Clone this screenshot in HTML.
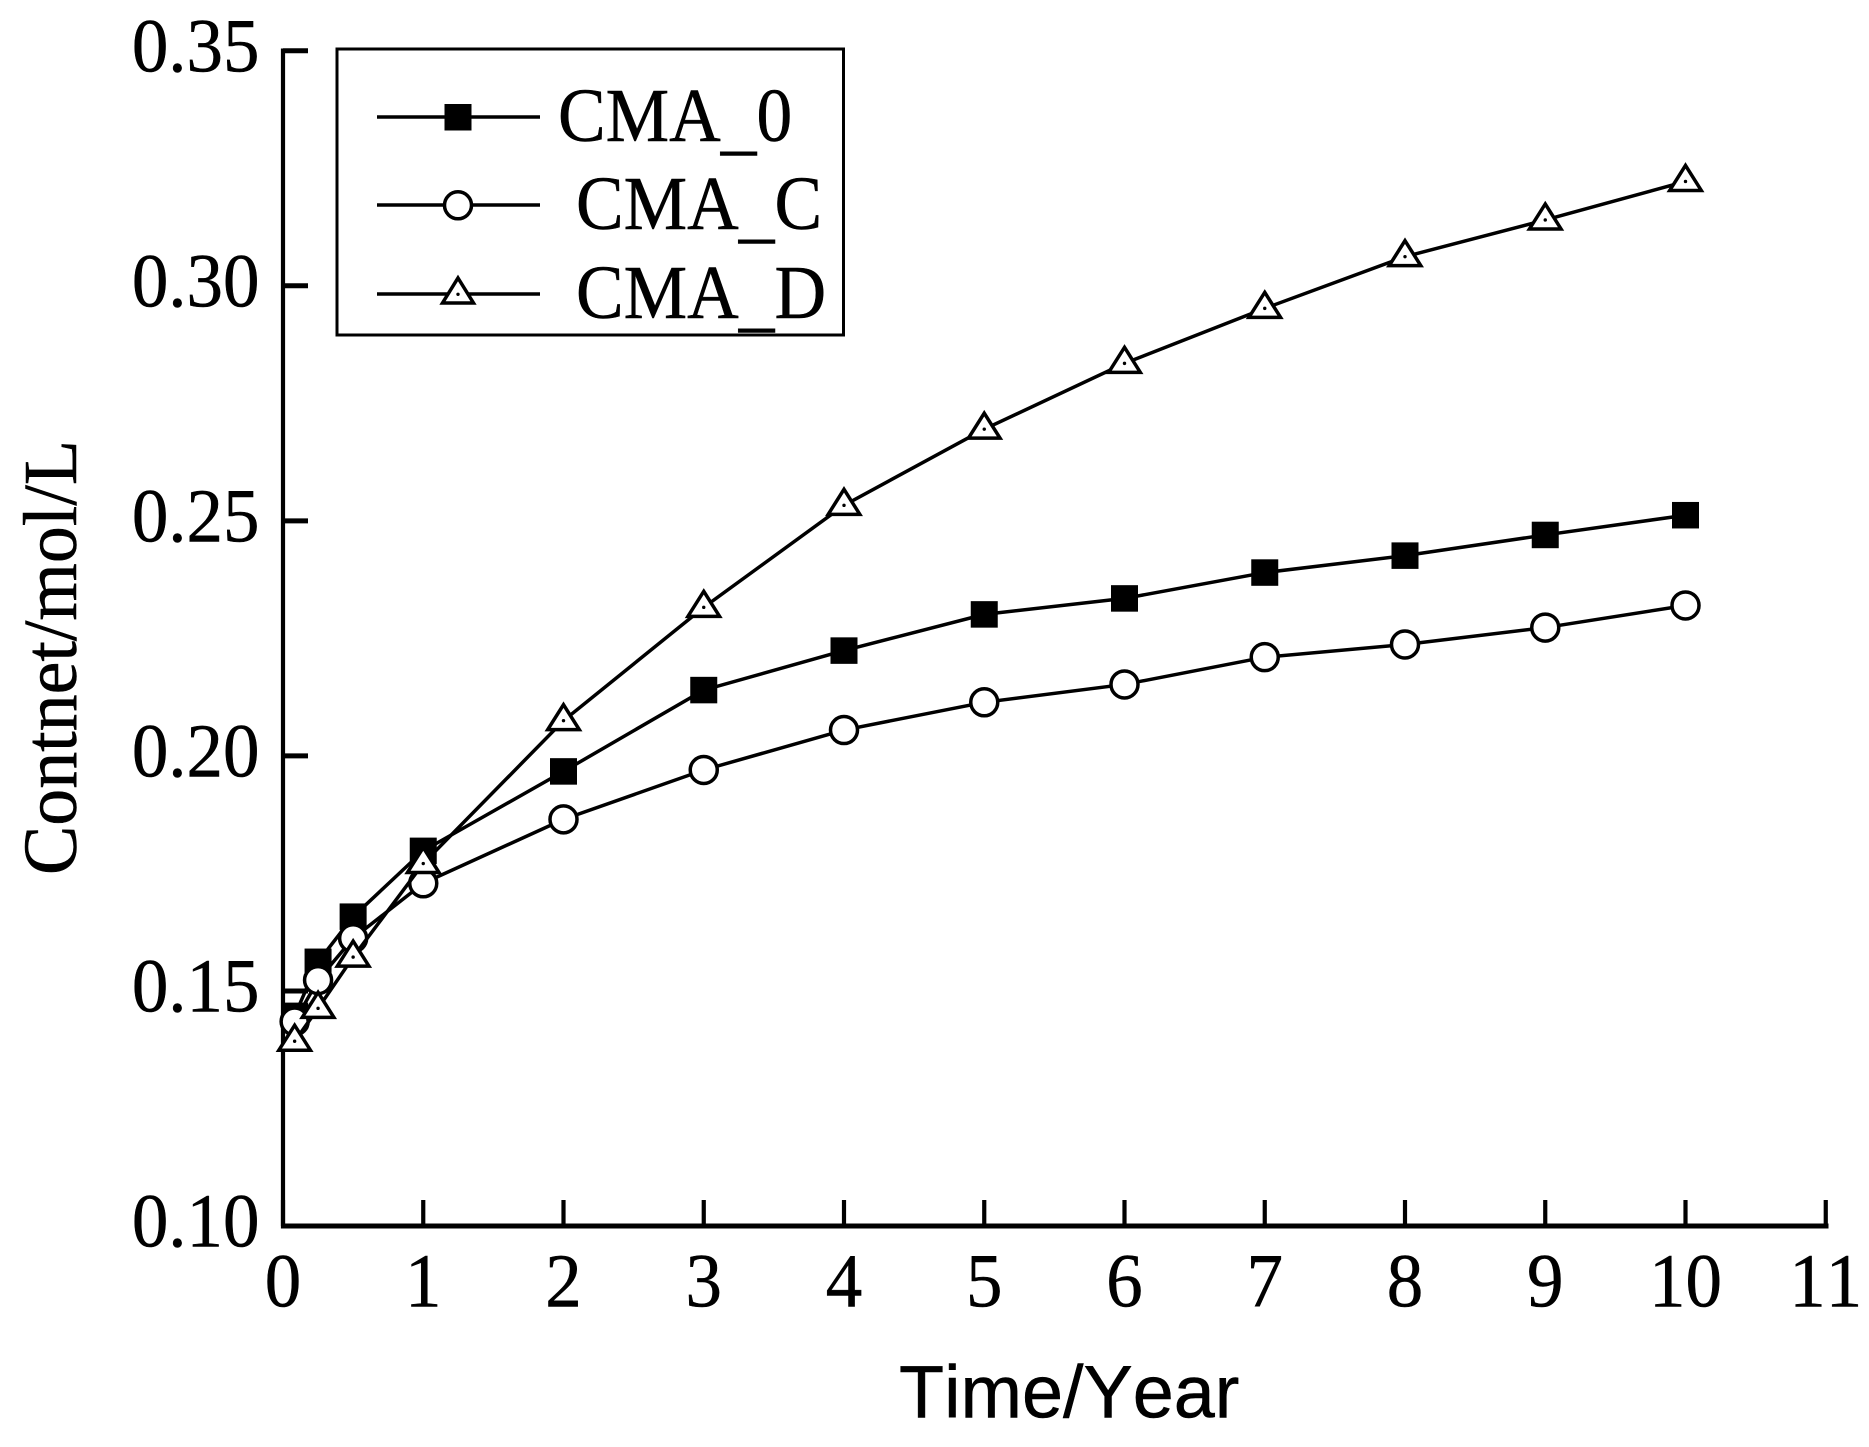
<!DOCTYPE html>
<html>
<head>
<meta charset="utf-8">
<title>Content over time</title>
<style>
html,body{margin:0;padding:0;background:#fff;}
svg{display:block;}
text{font-family:"Liberation Serif",serif;fill:#000;font-kerning:none;stroke:#000;stroke-width:0.5;}
.sans{font-family:"Liberation Sans",sans-serif;}
</style>
</head>
<body>
<svg id="chart" xmlns="http://www.w3.org/2000/svg" width="1869" height="1447" viewBox="0 0 1869 1447">
  <rect x="0" y="0" width="1869" height="1447" fill="#fff"/>
  <g id="axes"></g>
  <g id="series"></g>
  <text class="sans" x="899" y="1417.5" font-size="73.8">Time/Year</text>
  <text transform="translate(76,875) rotate(-90) scale(0.972,1)" font-size="76">Contnet/mol/L</text>
  <g>
    <rect x="337" y="49" width="506.5" height="286" fill="none" stroke="#000" stroke-width="3"/>
    <g>
      <line x1="377" y1="117" x2="540" y2="117" stroke="#000" stroke-width="3.5"/>
      <rect x="444.5" y="104" width="27" height="26.5" fill="#000"/>
      <text transform="translate(558,141) scale(0.94,1)" font-size="76">CMA<tspan dy="4.5">_</tspan><tspan dy="-4.5">0</tspan></text>
    </g>
    <g>
      <line x1="377" y1="205" x2="540" y2="205" stroke="#000" stroke-width="3.5"/>
      <circle cx="458" cy="205.3" r="13.5" fill="#fff" stroke="#000" stroke-width="3.5"/>
      <text transform="translate(576,229) scale(0.94,1)" font-size="76">CMA<tspan dy="4.5">_</tspan><tspan dy="-4.5">C</tspan></text>
    </g>
    <g>
      <line x1="377" y1="294" x2="540" y2="294" stroke="#000" stroke-width="3.5"/>
      <path d="M458 278 L473.5 303 L442.5 303 Z" fill="#fff" stroke="#000" stroke-width="3.5"/>
      <circle cx="458" cy="294.3" r="1.7" fill="#000"/>
      <text transform="translate(576,318) scale(0.94,1)" font-size="76">CMA<tspan dy="4.5">_</tspan><tspan dy="-4.5">D</tspan></text>
    </g>
  </g>
</svg>
<script>
var xTickValues = [0, 1, 2, 3, 4, 5, 6, 7, 8, 9, 10, 11];
var xTickLabels = ['0', '1', '2', '3', '4', '5', '6', '7', '8', '9', '10', '11'];
var yTickValues = [0.10, 0.15, 0.20, 0.25, 0.30, 0.35];
var yTickLabels = ['0.10', '0.15', '0.20', '0.25', '0.30', '0.35'];
var times = [0.083, 0.25, 0.5, 1, 2, 3, 4, 5, 6, 7, 8, 9, 10];
var cma0 = [0.1447, 0.1562, 0.1658, 0.1798, 0.1967, 0.2140, 0.2224, 0.2301, 0.2335, 0.2390, 0.2426, 0.2470, 0.2512];
var cmaC = [0.1435, 0.1523, 0.1612, 0.1729, 0.1865, 0.1970, 0.2055, 0.2114, 0.2152, 0.2210, 0.2237, 0.2273, 0.2320];
var cmaD = [0.1393, 0.1463, 0.1572, 0.1771, 0.2075, 0.2316, 0.2533, 0.2695, 0.2835, 0.2952, 0.3062, 0.3140, 0.3222];

var NS = 'http://www.w3.org/2000/svg';
function xScale(v) { return 283 + 140.25 * v; }
function yScale(v) { return 1226 - (v - 0.1) * 4701; }

function make(tag, parent, attrs) {
  var el = document.createElementNS(NS, tag);
  for (var k in attrs) { el.setAttribute(k, attrs[k]); }
  parent.appendChild(el);
  return el;
}

var axes = document.getElementById('axes');
var seriesGroup = document.getElementById('series');

var ySpine = make('line', axes, {x1: 283, y1: 48.5, x2: 283, y2: 1228.5, stroke: '#000', 'stroke-width': 4.2});


var xSpine = make('line', axes, {x1: 281, y1: 1226, x2: 1828.5, y2: 1226, stroke: '#000', 'stroke-width': 5});



xTickValues.forEach(function (v, i) {
  var tick = make('line', axes, {x1: xScale(v), y1: 1200, x2: xScale(v), y2: 1226, stroke: '#000', 'stroke-width': 4.2});
  
  
  var label = make('text', axes, {transform: 'translate(' + xScale(v) + ',1306.5) scale(0.96,1)', 'font-size': 76, 'text-anchor': 'middle'});
  
  
  label.textContent = xTickLabels[i];
});

yTickValues.forEach(function (v, i) {
  var tick = make('line', axes, {x1: 283, y1: yScale(v), x2: 308, y2: yScale(v), stroke: '#000', 'stroke-width': 5});
  
  
  var label = make('text', axes, {transform: 'translate(259.5,' + (yScale(v) + 20.5) + ') scale(0.96,1)', 'font-size': 76, 'text-anchor': 'end'});
  
  
  label.textContent = yTickLabels[i];
});

function drawLine(values, name) {
  var pts = values.map(function (v, i) { return xScale(times[i]) + ',' + yScale(v); }).join(' ');
  var line = make('polyline', seriesGroup, {points: pts, fill: 'none', stroke: '#000', 'stroke-width': 3.5});
  
  
}

drawLine(cma0, 'series-line-cma-0');
cma0.forEach(function (v, i) {
  var m = make('rect', seriesGroup, {x: xScale(times[i]) - 13.5, y: yScale(v) - 13.25, width: 27, height: 26.5, fill: '#000'});
  
  
});

drawLine(cmaC, 'series-line-cma-c');
cmaC.forEach(function (v, i) {
  var m = make('circle', seriesGroup, {cx: xScale(times[i]), cy: yScale(v), r: 13.5, fill: '#fff', stroke: '#000', 'stroke-width': 3.5});
  
  
});

drawLine(cmaD, 'series-line-cma-d');
cmaD.forEach(function (v, i) {
  var x = xScale(times[i]), y = yScale(v);
  var d = 'M' + x + ' ' + (y - 16) + ' L' + (x + 15.8) + ' ' + (y + 9) + ' L' + (x - 15.8) + ' ' + (y + 9) + ' Z';
  var m = make('path', seriesGroup, {d: d, fill: '#fff', stroke: '#000', 'stroke-width': 3.5});
  
  
  var dot = make('circle', seriesGroup, {cx: x, cy: y, r: 1.7, fill: '#000'});
  
  
});
</script>
</body>
</html>
